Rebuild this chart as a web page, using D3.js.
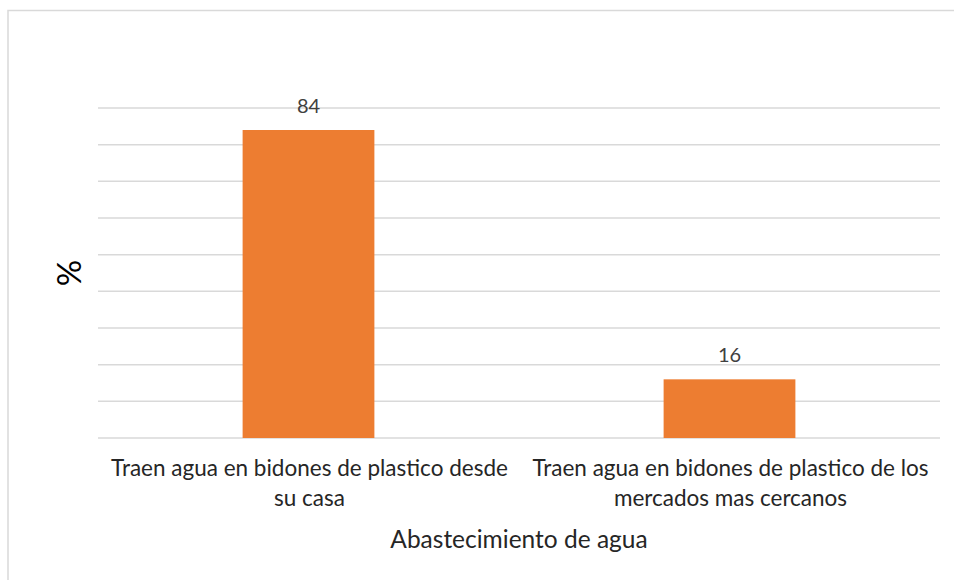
<!DOCTYPE html>
<html><head><meta charset="utf-8">
<script src="https://cdn.jsdelivr.net/npm/d3@7"></script>
<style>body{margin:0;background:#fff}svg{display:block}</style>
</head><body>
<script>
const categories = [
  ["Traen agua en bidones de plastico desde", "su casa"],
  ["Traen agua en bidones de plastico de los", "mercados mas cercanos"]
];
const values = [84, 16];
const yTicks = [0,10,20,30,40,50,60,70,80,90];
const xTitle = "Abastecimiento de agua";
const yTitle = "%";

const W = 954, H = 580;
const font = "Lato, 'Open Sans', sans-serif";
const svg = d3.select("body").append("svg").attr("width", W).attr("height", H);
svg.append("rect").attr("x", 8).attr("y", 10.5).attr("width", W).attr("height", H)
  .attr("fill", "#fff").attr("stroke", "#d9d9d9").attr("stroke-width", 1.5);

const m = {l: 98, r: 940, t: 108, b: 438};
const x = d3.scaleBand().domain(d3.range(values.length)).range([m.l, m.r]).paddingInner(0.687).paddingOuter(0.3435);
const y = d3.scaleLinear().domain([0, 90]).range([m.b, m.t]);

svg.append("g").selectAll("line").data(yTicks).join("line")
  .attr("x1", m.l).attr("x2", m.r).attr("y1", d => y(d)).attr("y2", d => y(d))
  .attr("stroke", "#d9d9d9").attr("stroke-width", 1.5);

svg.append("g").selectAll("rect").data(values).join("rect")
  .attr("x", (d,i) => x(i)).attr("width", x.bandwidth())
  .attr("y", d => y(d)).attr("height", d => y(0) - y(d))
  .attr("fill", "#ED7D31");

svg.append("g").selectAll("text").data(values).join("text")
  .attr("x", (d,i) => x(i) + x.bandwidth()/2).attr("y", d => y(d) - 17)
  .attr("text-anchor", "middle").attr("font-family", font).attr("font-size", 20)
  .attr("fill", "#404040").text(d => d);

const band = d3.scaleBand().domain(d3.range(values.length)).range([m.l, m.r]);
const lab = svg.append("g").selectAll("text").data(categories).join("text")
  .attr("x", (d,i) => band(i) + band.bandwidth()/2 + 1).attr("y", 476)
  .attr("text-anchor", "middle").attr("font-family", font).attr("font-size", 22.5)
  .attr("fill", "#262626");
lab.selectAll("tspan").data(d => d).join("tspan")
  .attr("x", function(){ return d3.select(this.parentNode).attr("x"); })
  .attr("dy", (d,i) => i ? 30 : 0).text(d => d);

svg.append("text").attr("x", (m.l+m.r)/2).attr("y", 548).attr("text-anchor", "middle")
  .attr("font-family", font).attr("font-size", 24.5).attr("fill", "#262626").text(xTitle);

svg.append("text").attr("transform", "translate(81,273) rotate(-90)").attr("text-anchor", "middle")
  .attr("font-family", font).attr("font-size", 33).attr("fill", "#000").text(yTitle);
</script>
</body></html>
